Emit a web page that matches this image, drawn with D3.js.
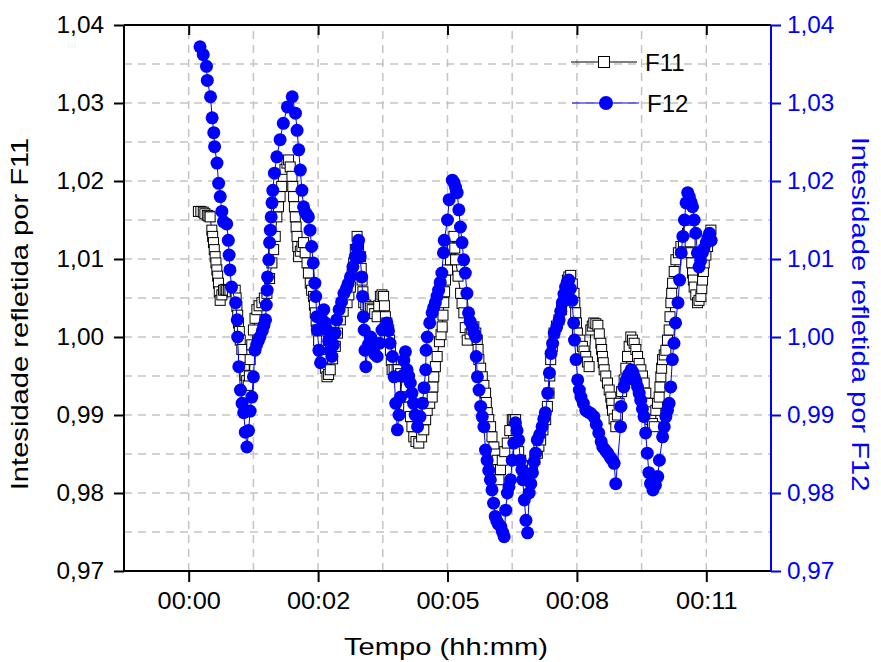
<!DOCTYPE html>
<html>
<head>
<meta charset="utf-8">
<script src="https://cdn.jsdelivr.net/npm/d3@7"></script>
<style>
  body { margin: 0; background: #fff; }
  svg text { font-family: "Liberation Sans", Arial, Helvetica, sans-serif; }
</style>
</head>
<body>
<svg id="chart" width="881" height="662"></svg>
<script>
// Time axis (seconds) and its labels
const xTicks = [0, 160, 320, 480, 640];
const xTickLabels = ["00:00", "00:02", "00:05", "00:08", "00:11"];
const xMinorTicks = [-80, 80, 240, 400, 560, 720];

// Intensity axes (shared range on both sides)
const yTicks = [0.97, 0.98, 0.99, 1.00, 1.01, 1.02, 1.03, 1.04];
const yMinorTicks = [0.975, 0.985, 0.995, 1.005, 1.015, 1.025, 1.035];

const seriesNames = ["F11", "F12"];
const axisTitles = ["Tempo (hh:mm)", "Intesidade refletida por F11", "Intesidade refletida por F12"];

// F11: [time (s), relative intensity]
const f11Points = [
  [12,1.0161],[15,1.0161],[18,1.0160],[20,1.0158],[23,1.0156],[25,1.0155],[26.5,1.0154],[28.6,1.0137],
  [29.6,1.0129],[30.6,1.0121],[31.6,1.0112],[32.7,1.0103],[33.7,1.0095],[34.8,1.0086],[35.8,1.0078],[36.8,1.0069],
  [37.8,1.0058],[38.9,1.0047],[41,1.0054],[43,1.0060],[45,1.0061],[47,1.0060],[49,1.0060],[51,1.0060],
  [54,1.0058],[57.5,1.0060],[58.6,1.0050],[59.6,1.0039],[60.6,1.0028],[61.5,1.0018],[62.6,1.0007],[63.7,0.9996],
  [65.7,0.9984],[67.7,0.9971],[68.7,0.9961],[69.8,0.9951],[71.7,0.9944],[73.6,0.9938],[75,0.9950],[76,0.9971],
  [78,0.9990],[80,1.0009],[82,1.0024],[84.3,1.0035],[87,1.0040],[90.5,1.0044],[93.5,1.0050],[96.7,1.0056],
  [100,1.0075],[102.9,1.0095],[105,1.0112],[107,1.0129],[109,1.0154],[111,1.0167],[113,1.0180],[115,1.0193],
  [117,1.0206],[119,1.0215],[121.5,1.0223],[123.5,1.0227],[125.5,1.0218],[127.7,1.0206],[128.7,1.0193],[129.7,1.0180],
  [130.7,1.0167],[131.8,1.0154],[132.8,1.0141],[133.9,1.0129],[134.9,1.0116],[135.9,1.0103],[138,1.0110],[140,1.0116],
  [142,1.0121],[144,1.0108],[146.3,1.0095],[148,1.0082],[150.3,1.0069],[152,1.0060],[154.4,1.0052],[155.4,1.0041],
  [156.5,1.0031],[157.6,1.0020],[158.6,1.0009],[160.7,0.9995],[162.7,0.9983],[165,0.9978],[167,0.9971],[169,0.9960],
  [171,0.9949],[173,0.9952],[175,0.9958],[178,0.9972],[181.3,0.9988],[184,1.0005],[187.5,1.0022],[191,1.0033],
  [195.8,1.0044],[198,1.0054],[199.9,1.0064],[202,1.0080],[204,1.0095],[206,1.0112],[208.2,1.0129],[210,1.0116],
  [212.3,1.0103],[213.3,1.0088],[214.4,1.0073],[215.4,1.0058],[216.4,1.0044],[219,1.0041],[222.5,1.0039],[224.6,1.0037],
  [226.8,1.0035],[230,1.0030],[233,1.0026],[235,1.0040],[237,1.0052],[239,1.0054],[241,1.0052],[242,1.0040],
  [243.2,1.0026],[245,1.0018],[247.3,1.0009],[248.4,0.9996],[249.4,0.9983],[250.5,0.9970],[251.5,0.9958],[254,0.9958],
  [257.7,0.9958],[262,0.9953],[265.9,0.9949],[268,0.9936],[270.1,0.9923],[272,0.9910],[274.2,0.9898],[276,0.9885],
  [278.3,0.9872],[281,0.9866],[284.5,0.9864],[288,0.9872],[290.7,0.9881],[293,0.9894],[294.9,0.9906],[298,0.9915],
  [301.1,0.9923],[302,0.9936],[303,0.9949],[305,0.9962],[307.2,0.9975],[310,0.9994],[312,1.0003],[313.4,1.0013],
  [314.4,1.0028],[315.4,1.0044],[316.4,1.0058],[317.5,1.0073],[320,1.0086],[323.7,1.0099],[326,1.0114],[327.9,1.0129],
  [329,1.0114],[330,1.0099],[333,1.0078],[336.2,1.0056],[338,1.0043],[340.2,1.0031],[342,1.0012],[344.4,0.9996],
  [348,1.0004],[350,1.0010],[352.6,1.0013],[355,1.0005],[356.8,0.9996],[357.8,0.9984],[358.8,0.9971],[361,0.9960],
  [363,0.9949],[365,0.9938],[367.1,0.9928],[368,0.9916],[369.2,0.9903],[371,0.9894],[373.3,0.9885],[375,0.9872],
  [377.4,0.9859],[379.5,0.9850],[381.5,0.9842],[382.5,0.9830],[383.6,0.9817],[385.5,0.9830],[387.7,0.9842],[390.8,0.9853],
  [393.9,0.9864],[397,0.9880],[400.1,0.9894],[402,0.9894],[404.2,0.9894],[405,0.9880],[406.3,0.9864],[408,0.9853],
  [410.4,0.9842],[413.5,0.9835],[416.6,0.9829],[418.6,0.9823],[420.7,0.9817],[422.8,0.9826],[424.9,0.9834],[428,0.9843],
  [431.1,0.9851],[433,0.9860],[435.2,0.9868],[438,0.9881],[441.4,0.9894],[443.5,0.9911],[445.5,0.9928],[446.5,0.9950],
  [447.6,0.9971],[449.6,0.9988],[451.7,1.0005],[454.7,1.0014],[457.8,1.0022],[461,1.0035],[464,1.0047],[466,1.0060],
  [468.2,1.0073],[470,1.0077],[472.3,1.0079],[474.3,1.0068],[476.4,1.0056],[477.4,1.0044],[478.5,1.0031],[479.5,1.0018],
  [480.6,1.0005],[483.7,0.9996],[486.8,0.9988],[488.8,0.9982],[490.9,0.9975],[493,0.9968],[495.1,0.9962],[497.2,1.0009],
  [499,1.0014],[500.9,1.0018],[503.4,1.0017],[505.9,1.0015],[507.7,1.0004],[509.6,0.9992],[510.6,0.9984],[511.6,0.9975],
  [512.6,0.9967],[513.7,0.9958],[515.7,0.9950],[517.8,0.9941],[519.9,0.9932],[521.9,0.9923],[523,0.9915],[524,0.9906],
  [526,0.9895],[528.1,0.9885],[530.1,0.9900],[532.2,0.9915],[535.3,0.9930],[538.4,0.9945],[540.5,0.9960],[542.6,0.9975],
  [544.6,0.9988],[546.7,1.0000],[548.7,0.9996],[550.8,0.9992],[552.9,0.9984],[555,0.9975],[557,0.9966],[559.1,0.9958],
  [561.1,0.9950],[563.2,0.9941],[565.2,0.9928],[567.3,0.9915],[569.3,0.9904],[571.4,0.9894],[573.5,0.9889],[575.6,0.9885],
  [577.6,0.9906],[579.6,0.9915],[581.7,0.9923],[582.7,0.9936],[583.8,0.9949],[584.8,0.9960],[585.9,0.9971],[588,0.9977],
  [590,0.9983],[592,0.9996],[594.1,1.0009],[595.1,1.0026],[596.2,1.0044],[597.2,1.0056],[598.3,1.0069],[600.3,1.0084],
  [602.4,1.0099],[605.5,1.0108],[608.6,1.0116],[611.7,1.0122],[614.8,1.0129],[616.8,1.0133],[618.8,1.0137],[620,1.0122],
  [621,1.0108],[622,1.0095],[623,1.0082],[624,1.0073],[625,1.0064],[627,1.0054],[629.2,1.0044],[631,1.0047],
  [633.3,1.0052],[634.4,1.0062],[635.4,1.0073],[636.4,1.0084],[637.4,1.0095],[639.5,1.0105],[641.6,1.0116],[643.6,1.0127],
  [645.7,1.0137]
];

// F12: [time (s), relative intensity]
const f12Points = [
  [14,1.0372],[18,1.0362],[22,1.0347],[23,1.0329],[27,1.0308],[29,1.0281],[31,1.0262],[32,1.0244],[35,1.0223],
  [37,1.0197],[39,1.0180],[41,1.0161],[43,1.0148],[47,1.0145],[49,1.0124],[50,1.0105],[51,1.0086],[53,1.0064],
  [58,1.0044],[60,1.0022],[60.5,1.0000],[62,0.9962],[64,0.9932],[66,0.9915],[68,0.9903],[70,0.9878],[72,0.9859],
  [74,0.9880],[76,0.9905],[78,0.9923],[80,0.9949],[82,0.9983],[84,0.9990],[86,0.9995],[88,1.0000],[91,1.0008],
  [93,1.0015],[95,1.0022],[96,1.0041],[97,1.0060],[97.5,1.0077],[99,1.0099],[100,1.0121],[101,1.0137],
  [102,1.0154],[103,1.0172],[104,1.0188],[106,1.0210],[109,1.0231],[113,1.0253],[117,1.0274],[122,1.0295],[128,1.0308],
  [132,1.0287],[134,1.0265],[136,1.0240],[138,1.0214],[140,1.0188],[142,1.0167],[144,1.0160],[146,1.0157],[148,1.0154],
  [150,1.0137],[152,1.0116],[154,1.0095],[156,1.0069],[157,1.0052],[158.5,1.0026],[159,1.0009],[161,0.9983],[163,0.9967],
  [165,1.0022],[167,1.0035],[169,1.0018],[171,1.0009],[173,0.9995],[175,0.9983],[177,0.9975],[179,0.9990],[181,1.0005],
  [183,1.0022],[186,1.0035],[189,1.0045],[192,1.0056],[195,1.0062],[197,1.0068],[200,1.0077],[203,1.0090],[206,1.0103],
  [208,1.0115],[210,1.0124],[212,1.0103],[214,1.0077],[215,1.0052],[216,1.0026],[217,1.0009],[218,0.9983],[219,0.9962],
  [222,0.9990],[225,1.0000],[228,0.9985],[230,0.9978],[233,0.9975],[236,0.9992],[239,1.0009],[242,1.0012],[245,1.0018],
  [247,1.0008],[249,0.9992],[252,0.9975],[254,0.9949],[256,0.9915],[258,0.9881],[260,0.9900],[262,0.9923],[264,0.9950],
  [266,0.9970],[268,0.9981],[270,0.9958],[272,0.9950],[274,0.9941],[276,0.9928],[278,0.9915],[280,0.9900],[283,0.9885],
  [286,0.9898],[289,0.9915],[291,0.9935],[293,0.9958],[293.5,0.9983],[295,1.0000],[298,1.0018],[301,1.0031],[303,1.0038],
  [305,1.0044],[307,1.0052],[309,1.0060],[311,1.0070],[313,1.0082],[315,1.0108],[316,1.0124],[320,1.0150],[322,1.0176],
  [326,1.0201],[328,1.0198],[330,1.0192],[332,1.0185],[334,1.0163],[336,1.0141],[338,1.0121],[340,1.0099],[342,1.0082],
  [344,1.0056],[346,1.0031],[348,1.0020],[351,1.0013],[353,1.0005],[355,1.0000],[355.5,0.9975],[357,0.9949],[359,0.9932],
  [361,0.9911],[363,0.9898],[365,0.9885],[367,0.9855],[369,0.9842],[371,0.9829],[373,0.9817],[375,0.9804],[377,0.9787],
  [379,0.9770],[381,0.9764],[383,0.9760],[386,0.9757],[388,0.9750],[390,0.9744],[392,0.9778],[394,0.9800],[396,0.9808],
  [398,0.9817],[400,0.9842],[402,0.9864],[404,0.9890],[406,0.9880],[408,0.9868],[410,0.9842],[412,0.9830],[413,0.9817],
  [415,0.9791],[417,0.9765],[419,0.9749],[421,0.9800],[423,0.9812],[425,0.9826],[427,0.9840],[429,0.9851],[431,0.9868],
  [434,0.9875],[437,0.9885],[439,0.9895],[441,0.9903],[444,0.9928],[446,0.9954],[448,0.9979],[450,0.9992],[452,1.0005],
  [455,1.0013],[458,1.0022],[460,1.0033],[462,1.0044],[464,1.0055],[466,1.0064],[468,1.0070],[470,1.0073],[472,1.0062],
  [474,1.0047],[476,1.0018],[477,0.9996],[479,0.9971],[481,0.9945],[483,0.9932],[485,0.9923],[488,0.9915],[491,0.9906],
  [494,0.9904],[497,0.9902],[501,0.9898],[504,0.9888],[507,0.9877],[510,0.9866],[512,0.9859],[515,0.9855],[518,0.9851],
  [521,0.9846],[524,0.9842],[526,0.9838],[528,0.9812],[534,0.9885],[534.5,0.9911],[538,0.9936],[541,0.9945],[544,0.9952],
  [547,0.9958],[549,0.9955],[551,0.9949],[553,0.9943],[555,0.9936],[557,0.9928],[559,0.9919],[561,0.9908],[563,0.9898],
  [565,0.9877],[567,0.9851],[569,0.9826],[571,0.9812],[574,0.9804],[577,0.9810],[580,0.9821],[582,0.9842],[586,0.9872],
  [588,0.9885],[590,0.9898],[592,0.9906],[594,0.9915],[596,0.9936],[598,0.9971],[600,0.9992],[602,1.0018],[605,1.0044],
  [607,1.0073],[609,1.0108],[611,1.0129],[613,1.0150],[615,1.0172],[617,1.0185],[619,1.0180],[621,1.0173],[623,1.0167],
  [625,1.0150],[627,1.0133],[629,1.0108],[631,1.0090],[633,1.0098],[635,1.0108],[637,1.0113],[640,1.0121],[642,1.0127],
  [644,1.0133],[646,1.0124]
];

const BLUE = "#0000ff";
const plot = { left: 124, right: 771, top: 25, bottom: 571 };

const svg = d3.select("#chart");

const x = d3.scaleLinear().domain([-80, 720]).range([plot.left, plot.right]);
const yL = d3.scaleLinear().domain([0.97, 1.04]).range([plot.bottom, plot.top]);
const yR = d3.scaleLinear().domain([0.97, 1.04]).range([plot.bottom, plot.top]);

const commaFmt = d => d3.format(".2f")(d).replace(".", ",");

// Dashed grid at major and minor positions
const grid = svg.append("g").attr("stroke", "#c4c4c4").attr("stroke-width", 1.5)
  .attr("stroke-dasharray", "8,6");
const vGrid = xTicks.concat(xMinorTicks).filter(d => d > -80 && d < 720);
grid.selectAll("line.v").data(vGrid).join("line").attr("class", "v")
  .attr("x1", d => x(d)).attr("x2", d => x(d))
  .attr("y1", plot.bottom).attr("y2", plot.top);
const hGrid = yTicks.concat(yMinorTicks).filter(d => d > 0.97 + 1e-9 && d < 1.04 - 1e-9);
grid.selectAll("line.h").data(hGrid).join("line").attr("class", "h")
  .attr("x1", plot.left).attr("x2", plot.right)
  .attr("y1", d => yL(d)).attr("y2", d => yL(d));

// F11: black line with open squares
const lineL = d3.line().x(d => x(d[0])).y(d => yL(d[1]));
const lineR = d3.line().x(d => x(d[0])).y(d => yR(d[1]));
const sq = 10;
svg.append("path").datum(f11Points).attr("d", lineL)
  .attr("fill", "none").attr("stroke", "#000").attr("stroke-width", 1);
svg.append("g").selectAll("rect").data(f11Points).join("rect")
  .attr("x", d => x(d[0]) - sq / 2).attr("y", d => yL(d[1]) - sq / 2)
  .attr("width", sq).attr("height", sq)
  .attr("fill", "#fff").attr("stroke", "#000").attr("stroke-width", 1);

// F12: blue line with filled circles (right axis)
svg.append("path").datum(f12Points).attr("d", lineR)
  .attr("fill", "none").attr("stroke", BLUE).attr("stroke-width", 1);
svg.append("g").selectAll("circle").data(f12Points).join("circle")
  .attr("cx", d => x(d[0])).attr("cy", d => yR(d[1])).attr("r", 6.5)
  .attr("fill", BLUE);

// Stretch text horizontally (reading direction) while keeping its anchor
function stretchTicks(g, sx) {
  g.selectAll("text").each(function () {
    const t = d3.select(this);
    const xv = +t.attr("x") || 0;
    t.attr("x", xv / sx).attr("transform", `scale(${sx},1)`);
  });
}
const tickFont = 23, tickStretch = 1.1;

// Bottom axis
const gB = svg.append("g").attr("transform", `translate(0,${plot.bottom})`);
gB.call(d3.axisBottom(x).tickValues(xMinorTicks).tickSize(6).tickFormat(""));
gB.call(d3.axisBottom(x).tickValues(xTicks).tickSize(11).tickPadding(11)
  .tickFormat((d, i) => xTickLabels[i]));
gB.selectAll("text").attr("font-size", tickFont).attr("fill", "#000");
stretchTicks(gB, tickStretch);

// Top axis (ticks inward, no labels)
const gT = svg.append("g").attr("transform", `translate(0,${plot.top})`);
gT.call(d3.axisTop(x).tickValues(xMinorTicks).tickSize(-6).tickFormat(""));
gT.call(d3.axisTop(x).tickValues(xTicks).tickSize(-10).tickFormat(""));

// Left axis
const gL = svg.append("g").attr("transform", `translate(${plot.left},0)`);
gL.call(d3.axisLeft(yL).tickValues(yMinorTicks).tickSize(5).tickFormat(""));
gL.call(d3.axisLeft(yL).tickValues(yTicks).tickSize(10).tickPadding(10).tickFormat(commaFmt));
gL.selectAll("text").attr("font-size", tickFont).attr("fill", "#000");
stretchTicks(gL, 1.06);

// Right axis in blue
const gR = svg.append("g").attr("transform", `translate(${plot.right},0)`);
gR.call(d3.axisRight(yR).tickValues(yMinorTicks).tickSize(5).tickFormat(""));
gR.call(d3.axisRight(yR).tickValues(yTicks).tickSize(10).tickPadding(6).tickFormat(commaFmt));
gR.selectAll("text").attr("font-size", tickFont).attr("fill", BLUE);
stretchTicks(gR, 1.06);

[gB, gT, gL].forEach(g => g.selectAll("line,path").attr("stroke", "#000").attr("stroke-width", 2));
gR.selectAll("line,path").attr("stroke", BLUE).attr("stroke-width", 2);
// plain frame lines without end caps
gB.selectAll(".domain").attr("d", `M${plot.left},0H${plot.right}`);
gT.selectAll(".domain").attr("d", `M${plot.left},0H${plot.right}`);
gL.selectAll(".domain").attr("d", `M0,${plot.top}V${plot.bottom}`);
gR.selectAll(".domain").attr("d", `M0,${plot.top}V${plot.bottom}`);

// Axis titles
const titleFont = 24.5, titleStretch = 1.19;
svg.append("text")
  .attr("transform", `translate(446,655) scale(${titleStretch},1)`)
  .attr("text-anchor", "middle").attr("font-size", titleFont).attr("fill", "#000")
  .text(axisTitles[0]);
svg.append("text")
  .attr("transform", `translate(28,314) rotate(-90) scale(${titleStretch},1)`)
  .attr("text-anchor", "middle").attr("font-size", titleFont).attr("fill", "#000")
  .text(axisTitles[1]);
svg.append("text")
  .attr("transform", `translate(852,314) rotate(90) scale(${titleStretch},1)`)
  .attr("text-anchor", "middle").attr("font-size", titleFont).attr("fill", BLUE)
  .text(axisTitles[2]);

// Legend
const lg = svg.append("g");
lg.append("line").attr("x1", 571).attr("x2", 637).attr("y1", 62).attr("y2", 62)
  .attr("stroke", "#000").attr("stroke-width", 1);
lg.append("rect").attr("x", 604 - 5.5).attr("y", 62 - 5.5).attr("width", 11).attr("height", 11)
  .attr("fill", "#fff").attr("stroke", "#000").attr("stroke-width", 1);
lg.append("text").attr("x", 645).attr("y", 71).attr("font-size", 24).attr("fill", "#000")
  .text(seriesNames[0]);
lg.append("line").attr("x1", 572).attr("x2", 639).attr("y1", 103).attr("y2", 103)
  .attr("stroke", BLUE).attr("stroke-width", 1);
lg.append("circle").attr("cx", 606).attr("cy", 103).attr("r", 7).attr("fill", BLUE);
lg.append("text").attr("x", 647).attr("y", 112).attr("font-size", 24).attr("fill", "#000")
  .text(seriesNames[1]);
</script>
</body>
</html>
